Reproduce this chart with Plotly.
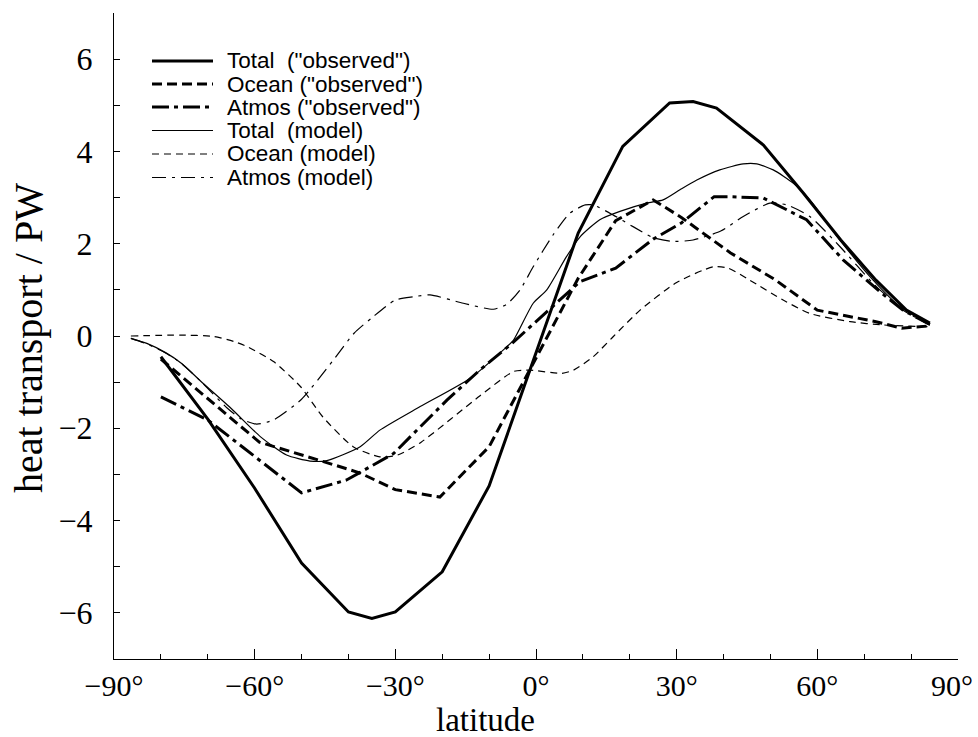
import plotly.graph_objects as go

# ---- data (latitude in degrees, heat transport in PW) ----
lat_total_obs = [-80, -70, -60, -50, -40, -35, -30, -20, -10, 9, 18.5, 28.5, 33.5, 38.5, 48.5, 57, 65, 72.5, 79, 84]
val_total_obs = [-0.45, -1.8, -3.3, -4.92, -5.98, -6.12, -5.98, -5.11, -3.25, 2.23, 4.11, 5.05, 5.08, 4.94, 4.14, 3.1, 2.08, 1.21, 0.56, 0.28]

lat_ocean_obs = [-80, -59, -46, -37.5, -30, -20.5, -10, 9, 17, 25, 31, 41.5, 51, 60, 72.5, 78, 84]
val_ocean_obs = [-0.5, -2.3, -2.7, -2.97, -3.33, -3.49, -2.4, 1.25, 2.5, 2.95, 2.57, 1.8, 1.22, 0.56, 0.31, 0.17, 0.22]

lat_atmos_obs = [-80, -70, -50, -40.4, -30.4, -19, -12, -5, 9.4, 17, 25, 31, 38, 41, 48.5, 57.7, 65.5, 73.7, 78.3, 84]
val_atmos_obs = [-1.32, -1.82, -3.4, -3.12, -2.55, -1.39, -0.74, -0.15, 1.18, 1.47, 2.1, 2.45, 3.02, 3.02, 2.99, 2.52, 1.65, 0.93, 0.56, 0.25]

lat_total_mod = [-86.4, -83, -79, -75.5, -71.5, -65, -58.8, -53.2, -48.2, -44.6, -37.5, -33.3, -24.7, -14.1, -6.2, -4.8, -0.6, 2.3, 6.5, 9.4, 13.6, 17.9, 23.6, 27.1, 30.7, 34.3, 39.2, 44.2, 47.1, 50.6, 54.9, 58.4, 64.8, 71.9, 77.6, 84]
val_total_mod = [-0.05, -0.16, -0.36, -0.6, -0.98, -1.57, -2.18, -2.58, -2.71, -2.7, -2.4, -2.04, -1.53, -0.92, -0.23, -0.09, 0.71, 1.0, 1.72, 2.15, 2.52, 2.7, 2.88, 2.95, 3.17, 3.38, 3.6, 3.73, 3.73, 3.6, 3.31, 2.95, 2.08, 1.21, 0.64, 0.24]

lat_ocean_mod = [-86.4, -75.8, -68.7, -64.4, -61.6, -55.9, -50.2, -45.5, -39, -33.3, -29.5, -24.5, -12, -4.8, -1.3, 5.5, 8, 12.2, 16.5, 22.2, 30, 37.8, 41, 45.6, 52.7, 58.4, 67, 74, 84]
val_ocean_mod = [0.0, 0.02, -0.01, -0.12, -0.23, -0.56, -1.1, -1.75, -2.4, -2.62, -2.58, -2.3, -1.3, -0.77, -0.74, -0.81, -0.74, -0.45, -0.01, 0.56, 1.16, 1.5, 1.47, 1.21, 0.78, 0.49, 0.31, 0.24, 0.2]

lat_atmos_mod = [-86.4, -83, -79, -75.8, -71.5, -66, -63, -59.6, -56, -50, -43.2, -38.8, -34.7, -30, -26.2, -22.6, -15.5, -9.1, -6.2, -3.4, -0.6, 3.7, 7.2, 10.5, 12.2, 16.5, 20.7, 25, 29, 33.5, 39.5, 44.2, 49.9, 53.5, 58.4, 64.8, 71.9, 78.3, 84]
val_atmos_mod = [-0.05, -0.17, -0.37, -0.58, -0.98, -1.55, -1.79, -1.91, -1.82, -1.37, -0.52, 0.06, 0.42, 0.78, 0.85, 0.89, 0.71, 0.58, 0.69, 1.0, 1.5, 2.2, 2.66, 2.84, 2.84, 2.62, 2.37, 2.13, 2.05, 2.08, 2.28, 2.59, 2.88, 2.84, 2.59, 1.94, 1.14, 0.56, 0.24]

series_names = ['Total  ("observed")', 'Ocean ("observed")', 'Atmos ("observed")',
                'Total  (model)', 'Ocean (model)', 'Atmos (model)']

x_tick_vals = [-90, -60, -30, 0, 30, 60, 90]
x_tick_text = ['\u221290\u00b0', '\u221260\u00b0', '\u221230\u00b0', '0\u00b0', '30\u00b0', '60\u00b0', '']
x_end_label = '90\u00b0'
y_tick_vals = [-7, -6, -5, -4, -3, -2, -1, 0, 1, 2, 3, 4, 5, 6, 7]
y_tick_text = ['', '\u22126', '', '\u22124', '', '\u22122', '', '0', '', '2', '', '4', '', '6', '']

# ---- styles ----
styles = [
    dict(width=3.0, dash='solid'),
    dict(width=3.0, dash='10px,5px'),
    dict(width=3.0, dash='17px,5px,4px,5px'),
    dict(width=1.2, dash='solid'),
    dict(width=1.2, dash='7px,5px'),
    dict(width=1.2, dash='14px,6px,3px,6px'),
]
data = [
    (lat_total_obs, val_total_obs, 'linear'),
    (lat_ocean_obs, val_ocean_obs, 'linear'),
    (lat_atmos_obs, val_atmos_obs, 'linear'),
    (lat_total_mod, val_total_mod, 'spline'),
    (lat_ocean_mod, val_ocean_mod, 'spline'),
    (lat_atmos_mod, val_atmos_mod, 'spline'),
]

fig = go.Figure()
for (xs, ys, shp), st, nm in zip(data, styles, series_names):
    fig.add_trace(go.Scatter(x=xs, y=ys, mode='lines', name=nm, showlegend=False,
                             line=dict(color='black', width=st['width'], dash=st['dash'],
                                       shape=shp, smoothing=0.6)))

W, H = 978, 737
L, R, T, B = 114, 20, 13, 78
pw, ph = W - L - R, H - T - B

def px(x):
    return (x - L) / pw

def py(y):
    return (H - B - y) / ph

# custom legend (long line samples)
leg_rows = [61, 84, 107, 130.5, 154, 177.5]
shapes = []
annotations = []
for yr, st, nm in zip(leg_rows, styles, series_names):
    shapes.append(dict(type='line', xref='paper', yref='paper',
                       x0=px(152), x1=px(213), y0=py(yr), y1=py(yr),
                       line=dict(color='black', width=st['width'] if st['width'] > 2 else 1.2,
                                 dash=st['dash'])))
    annotations.append(dict(xref='paper', yref='paper', x=px(225), y=py(yr),
                            xanchor='left', yanchor='middle', showarrow=False, text=nm,
                            font=dict(family='Liberation Sans, Arial', size=22.5, color='black')))

tick_font = dict(family='Liberation Serif, Times New Roman', size=30, color='black')
# last x tick label, kept inside the page (as in the reference)
annotations.append(dict(xref='x', yref='paper', x=90, y=py(685), text=x_end_label,
                        showarrow=False, xanchor='right', yanchor='middle', xshift=17,
                        font=tick_font))
annotations.append(dict(xref='paper', yref='paper', x=px(485), y=py(720), text='latitude',
                        showarrow=False, xanchor='center', yanchor='middle',
                        font=dict(family='Liberation Serif, Times New Roman', size=33, color='black')))
annotations.append(dict(xref='paper', yref='paper', x=px(28), y=py(338), text='heat transport / PW',
                        showarrow=False, xanchor='center', yanchor='middle', textangle=-90,
                        font=dict(family='Liberation Serif, Times New Roman', size=40, color='black')))

fig.update_layout(
    width=W, height=H,
    margin=dict(l=L, r=R, t=T, b=B, autoexpand=False),
    paper_bgcolor='white', plot_bgcolor='white',
    shapes=shapes, annotations=annotations,
    font=dict(family='Liberation Serif, Times New Roman', size=30, color='black'),
    xaxis=dict(range=[-90, 90], showgrid=False, zeroline=False, showline=True,
               automargin=False,
               linecolor='black', linewidth=1, ticks='inside', ticklen=10, tickcolor='black',
               tickvals=x_tick_vals, ticktext=x_tick_text, ticklabelstandoff=0,
               ticklabeloverflow='allow',
               minor=dict(dtick=10, tick0=0, ticks='inside', ticklen=5, tickcolor='black'),
               tickfont=tick_font),
    yaxis=dict(range=[-7.0, 7.0], showgrid=False, zeroline=False, showline=True,
               automargin=False,
               linecolor='black', linewidth=1, ticks='inside', ticklen=6, tickcolor='black',
               tickvals=y_tick_vals, ticktext=y_tick_text, ticklabelstandoff=14,
               tickfont=dict(family='Liberation Serif, Times New Roman', size=32, color='black')),
)

fig.write_html('out.html')
